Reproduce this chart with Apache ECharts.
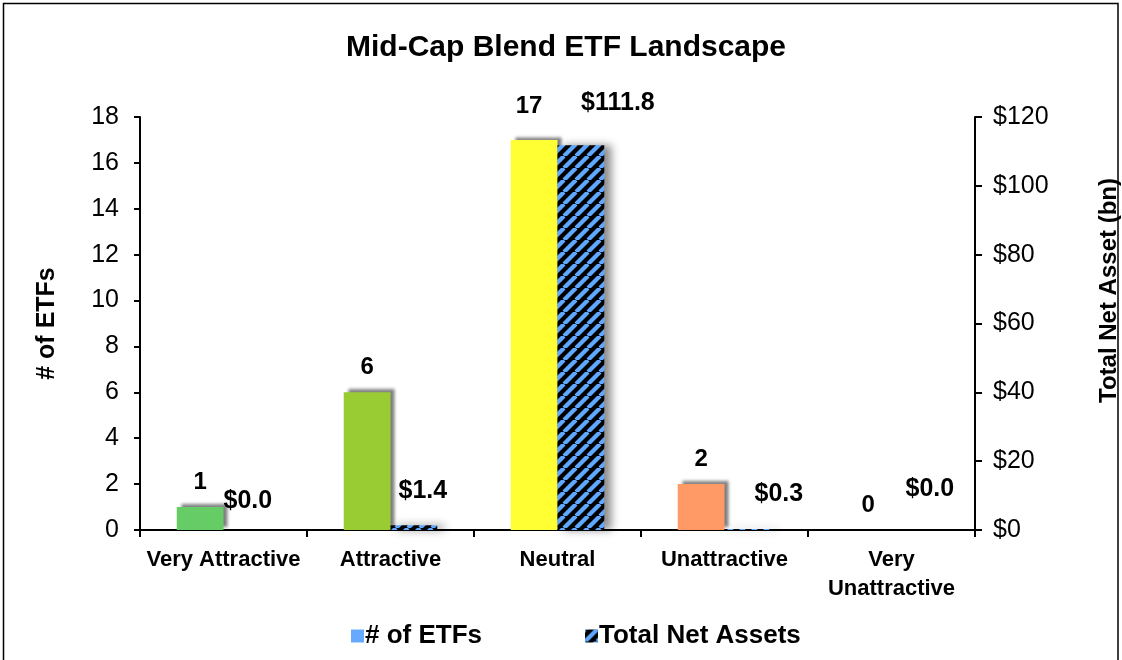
<!DOCTYPE html>
<html>
<head>
<meta charset="utf-8">
<script src="https://cdn.jsdelivr.net/npm/echarts@6/dist/echarts.min.js"></script>
<style>html,body{margin:0;padding:0;background:#fff}#c{width:1122px;height:660px}</style>
</head>
<body>
<div id="c"></div>
<script>
// ---- data ----
const categories = ['Very Attractive', 'Attractive', 'Neutral', 'Unattractive', 'Very\nUnattractive'];
const etfCounts = [1, 6, 17, 2, 0];
const netAssets = [0.02, 1.4, 111.8, 0.3, 0.0];
const leftTicks = { min: 0, max: 18, interval: 2 };
const rightTicks = { min: 0, max: 120, interval: 20 };

// ---- styles / layout ----
const barColors = ['#66cc66', '#99cc33', '#ffff33', '#ff9966', '#a0a0a0'];
const etfLabelDist = [13, 13, 22, 13, 13];
const etfLabelOffsets = [[0, 0], [0, 0], [-5, 0], [0, 0], [0, 0]];
const assetLabelOffsets = [[1, -2], [9, -8], [37, -16], [31, -8], [15, -14]];

function makePattern() {
  const s = 12;
  const cv = document.createElement('canvas');
  cv.width = s; cv.height = s;
  const ctx = cv.getContext('2d');
  ctx.fillStyle = '#000';
  ctx.fillRect(0, 0, s, s);
  ctx.strokeStyle = '#5ea8ff';
  ctx.lineWidth = 4.2;
  for (let k = -1; k <= 1; k++) {
    ctx.beginPath();
    ctx.moveTo(k * s, s);
    ctx.lineTo(k * s + s, 0);
    ctx.stroke();
  }
  return cv;
}
const pat = makePattern();
const hatch = { image: pat, repeat: 'repeat' };

const chart = echarts.init(document.getElementById('c'), null, { renderer: 'canvas' });
const font = 'Liberation Sans, Arial, sans-serif';

chart.setOption({
  animation: false,
  textStyle: { fontFamily: font },
  title: {
    text: 'Mid-Cap Blend ETF Landscape',
    left: 341, top: 28,
    textStyle: { fontFamily: font, fontSize: 30, fontWeight: 'bold', color: '#000' }
  },
  graphic: [{
    type: 'rect', shape: { x: 3.5, y: 3.5, width: 1114.5, height: 700 },
    style: { fill: 'none', stroke: '#000', lineWidth: 1.5 }, silent: true
  }],
  legend: {
    bottom: 6, left: 346, itemGap: 103, itemWidth: 13, itemHeight: 13,
    textStyle: { fontFamily: font, fontSize: 26, fontWeight: 'bold', color: '#000', padding: [0, 0, 0, -4] },
    data: [
      { name: '# of ETFs', icon: 'rect', itemStyle: { color: '#66aaff', shadowBlur: 0, shadowOffsetX: 0, shadowOffsetY: 0 } },
      { name: 'Total Net Assets', icon: 'rect', itemStyle: { color: hatch, shadowBlur: 0, shadowOffsetX: 0, shadowOffsetY: 0 } }
    ]
  },
  grid: { left: 140, right: 147, top: 117, bottom: 130, outerBoundsMode: 'none', containLabel: false },
  xAxis: {
    type: 'category', data: categories,
    axisLine: { lineStyle: { color: '#000', width: 2 } },
    axisTick: { show: true, length: 7, lineStyle: { color: '#000', width: 2 } },
    axisLabel: { fontFamily: font, fontSize: 22, fontWeight: 'bold', color: '#000', margin: 15, lineHeight: 29, interval: 0 }
  },
  yAxis: [{
    type: 'value', min: leftTicks.min, max: leftTicks.max, interval: leftTicks.interval,
    name: '# of ETFs', nameLocation: 'middle', nameGap: 80, nameRotate: 90,
    nameTextStyle: { fontFamily: font, fontSize: 25, fontWeight: 'bold', color: '#000' },
    axisLine: { show: true, lineStyle: { color: '#000', width: 2 } },
    axisTick: { show: true, length: 6, lineStyle: { color: '#000', width: 2 } },
    axisLabel: { fontFamily: font, fontSize: 25, color: '#000', margin: 21 },
    splitLine: { show: false }
  }, {
    type: 'value', min: rightTicks.min, max: rightTicks.max, interval: rightTicks.interval,
    name: 'Total Net Asset (bn)', nameLocation: 'middle', nameGap: 122, nameRotate: 90,
    nameTextStyle: { fontFamily: font, fontSize: 24, fontWeight: 'bold', color: '#000', padding: [0, 0, 0, 66] },
    axisLine: { show: true, lineStyle: { color: '#000', width: 2 } },
    axisTick: { show: true, length: 7, lineStyle: { color: '#000', width: 2 } },
    axisLabel: { fontFamily: font, fontSize: 25, color: '#000', margin: 18, formatter: v => '$' + v },
    splitLine: { show: false }
  }],
  series: [{
    name: '# of ETFs', type: 'bar', yAxisIndex: 0, barWidth: '28%', barGap: '0%',
    itemStyle: { color: '#66aaff', shadowColor: 'rgba(0,0,0,0.5)', shadowBlur: 3, shadowOffsetX: 4, shadowOffsetY: -3 },
    data: etfCounts.map((v, i) => ({
      value: v,
      itemStyle: { color: barColors[i] },
      label: { distance: etfLabelDist[i], offset: etfLabelOffsets[i] }
    })),
    label: { show: true, position: 'top', fontFamily: font, fontSize: 24, fontWeight: 'bold', color: '#000' }
  }, {
    name: 'Total Net Assets', type: 'bar', yAxisIndex: 1, barWidth: '28%',
    itemStyle: { color: hatch, shadowColor: 'rgba(0,0,0,0.45)', shadowBlur: 9, shadowOffsetX: 7, shadowOffsetY: 0 },
    data: netAssets.map((v, i) => ({
      value: v,
      label: { offset: assetLabelOffsets[i] }
    })),
    label: {
      show: true, position: 'top', distance: 14, fontFamily: font, fontSize: 25, fontWeight: 'bold', color: '#000',
      formatter: p => '$' + p.value.toFixed(1)
    }
  }]
});
</script>
</body>
</html>
